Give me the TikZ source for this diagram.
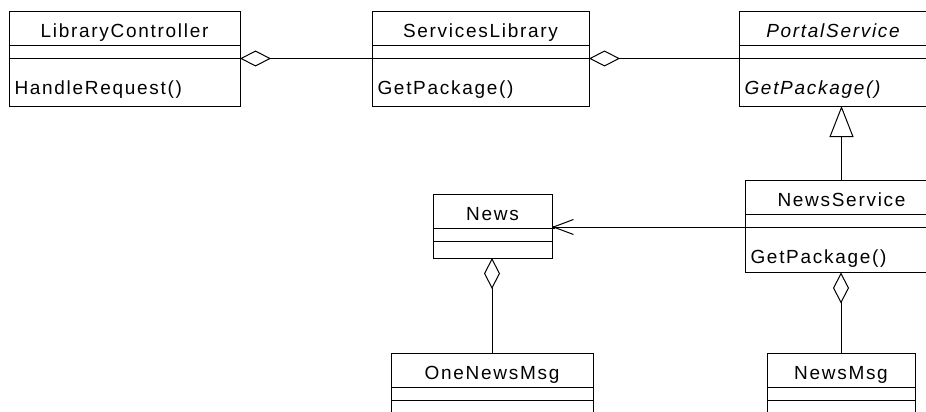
\documentclass[tikz,border=0pt]{standalone}
\usepackage{fontspec}
\newfontfamily\umlfont{Liberation Sans}[LetterSpace=9]
\usetikzlibrary{arrows.meta}
\tikzset{
  clsbox/.style={draw, line width=1pt, rectangle, inner sep=0pt, outer sep=0pt},
  divline/.style={line width=1pt},
  cltext/.style={font=\umlfont\fontsize{19pt}{21pt}\selectfont, inner sep=0pt, outer sep=0pt},
  conn/.style={line width=1pt},
  aggr/.style={conn, -{Diamond[open, length=31pt, width=16pt]}},
  gener/.style={conn, -{Triangle[open, length=31pt, width=24pt]}},
  navig/.style={conn, -{Straight Barb[length=20pt, width=15pt]}},
  tipsq/.style={conn, -{Square[length=3pt, width=3pt]}},
}
\newcommand{\umlcls}[6]{%
  \node[clsbox, anchor=north west, minimum width=#4pt, minimum height=#5pt] (#1) at (#2,#3) {};
  \coordinate (#1-d1w) at ([yshift=-34pt]#1.north west);
  \coordinate (#1-d1e) at ([yshift=-34pt]#1.north east);
  \coordinate (#1-d2w) at ([yshift=-47pt]#1.north west);
  \coordinate (#1-d2e) at ([yshift=-47pt]#1.north east);
  \draw[divline] (#1-d1w) -- (#1-d1e);
  \draw[divline] (#1-d2w) -- (#1-d2e);
  \node[cltext, anchor=base] (#1-title) at ([yshift=-26.5pt]#1.north) {#6};
}
\newcommand{\umlop}[2]{%
  \node[cltext, anchor=base west] (#1-op) at ([xshift=5.5pt,yshift=-83pt]#1.north west) {#2};
}
\begin{document}
\begin{tikzpicture}[x=1pt, y=-1pt]
  \useasboundingbox (0,0) rectangle (926,412);
  \clip (0,0) rectangle (926,412);
  \fill[white] (0,0) rectangle (926,412);

  \umlcls{lc}{9}{11.5}{231}{94.5}{LibraryController}
  \umlop{lc}{HandleRequest()}
  \umlcls{sl}{372}{11.5}{217}{94.5}{ServicesLibrary}
  \umlop{sl}{GetPackage()}
  \umlcls{ps}{739}{11.5}{188}{94.5}{\itshape PortalService}
  \umlop{ps}{\itshape GetPackage()}
  \umlcls{ns}{745}{180}{193}{92.5}{NewsService}
  \umlop{ns}{GetPackage()}
  \umlcls{news}{433}{194}{119}{64}{News}
  \umlcls{onm}{391}{353}{202}{100}{OneNewsMsg}
  \umlcls{nm}{767}{353}{148}{100}{NewsMsg}

  \draw[aggr] (sl-d2w) -- (lc-d2e);
  \draw[aggr] (ps-d2w) -- (sl-d2e);
  \draw[gener] (ns.north) -- (ns.north |- ps.south);
  \draw[navig] (ns-d2w) -- (ns-d2w -| news.east);
  \draw[tipsq] ([xshift=8pt]ns-d2w -| news.east) -- (ns-d2w -| news.east);
  \draw[aggr] (onm.north) -- (onm.north |- news.south);
  \draw[aggr] (nm.north) -- (nm.north |- ns.south);
\end{tikzpicture}
\end{document}
